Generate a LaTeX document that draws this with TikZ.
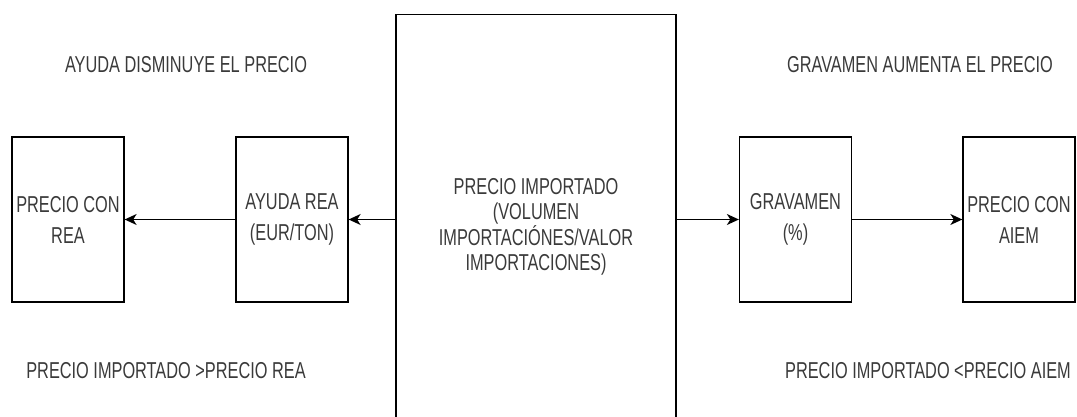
\documentclass[tikz,border=0pt]{standalone}
\usepackage{fontspec}
\setmainfont[FakeStretch=0.71]{Liberation Sans}
\usetikzlibrary{arrows.meta}
\definecolor{txtgray}{HTML}{3A3A3A}
\tikzset{
  box/.style={draw, line width=1.3pt, minimum width=112pt, minimum height=165pt, inner sep=0pt, align=center, text=txtgray, font=\fontsize{23}{31}\selectfont},
  note/.style={text=txtgray, font=\fontsize{23}{26}\selectfont, inner sep=0pt},
  flow/.style={line width=1.3pt, -{Stealth[length=12pt,width=11pt,inset=3.5pt]}}
}
\begin{document}
\begin{tikzpicture}[x=1pt,y=-1pt]
\useasboundingbox (0,0) rectangle (1077,417);
\clip (0,0) rectangle (1077,417);
%CENTRE
  \node (imp) at (536,14) [box, anchor=north, minimum width=280pt, minimum height=424pt, font=\fontsize{23}{25.5}\selectfont]
    {PRECIO IMPORTADO\\(VOLUMEN\\IMPORTACIÓNES/VALOR\\IMPORTACIONES)};
%AYUDA REA
  \node (ayuda) at (292,219.5) [box] {AYUDA REA\\(EUR/TON)};
  \node (conrea) at (68,219.5) [box] {PRECIO CON\\REA};
  \node (ayudatxt) at (186,65) [note] {AYUDA DISMINUYE EL PRECIO};
  \node (reatxt) at (166,371) [note] {PRECIO IMPORTADO >PRECIO REA};
%GRAVAMEN
  \node (grav) at (795.5,219.5) [box] {GRAVAMEN\\(\%)};
  \node (conaiem) at (1019,219.5) [box] {PRECIO CON\\AIEM};
  \node (gravtxt) at (920,65) [note] {GRAVAMEN AUMENTA EL PRECIO};
  \node (aiemtxt) at (928,371) [note] {PRECIO IMPORTADO <PRECIO AIEM};
%ARROWS
  \draw[flow] (imp.west |- ayuda.east) -- (ayuda.east);
  \draw[flow] (ayuda.west) -- (conrea.east);
  \draw[flow] (imp.east |- grav.west) -- (grav.west);
  \draw[flow] (grav.east) -- (conaiem.west);
\end{tikzpicture}
\end{document}
